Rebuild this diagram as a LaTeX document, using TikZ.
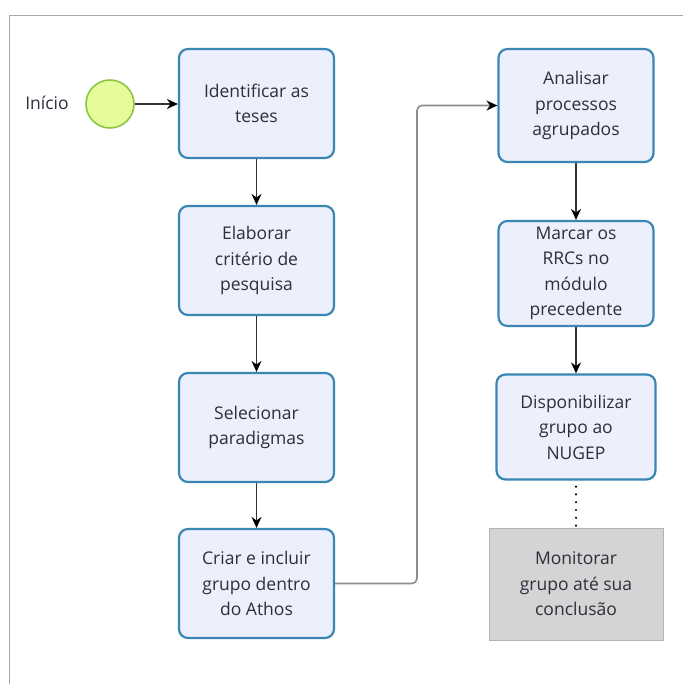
\documentclass[tikz,border=0pt]{standalone}
\usepackage{fontspec}
\setmainfont{Open Sans}
\usetikzlibrary{arrows.meta}
\definecolor{boxfill}{HTML}{ECEFFC}
\definecolor{boxdraw}{HTML}{3A87B4}
\definecolor{txt}{HTML}{2E2E3C}
\definecolor{startfill}{HTML}{E6FC9A}
\definecolor{startdraw}{HTML}{8CC63F}
\definecolor{grayfill}{HTML}{D4D4D4}
\definecolor{framec}{HTML}{A8A8A8}
\definecolor{conn}{HTML}{333333}
\tikzset{
  task/.style={draw=boxdraw, line width=2.2pt, fill=boxfill, rounded corners=9pt,
    minimum width=155pt, minimum height=109pt, align=center, text=txt,
    font=\fontsize{17.5}{25.5}\selectfont, inner sep=0pt},
  graytask/.style={fill=grayfill, draw=grayfill!85!black, line width=0.6pt,
    minimum width=174pt, minimum height=112pt, align=center, text=txt,
    font=\fontsize{17.5}{25.5}\selectfont, inner sep=0pt},
  flow/.style={draw=conn, line width=1.3pt, -{Stealth[length=11pt,width=10pt,color=black]}},
  elbow/.style={draw=gray!90, line width=1.6pt, rounded corners=5pt, -{Stealth[length=11pt,width=10pt,color=black]}},
}
\begin{document}
\begin{tikzpicture}[x=1pt,y=-1pt]
\useasboundingbox (0,0) rectangle (683,684);
\draw[framec, line width=1pt] (683,15.5) -- (9.5,15.5) -- (9.5,684);
\node[circle, draw=startdraw, line width=1.6pt, fill=startfill, minimum size=48pt, inner sep=0pt] (start) at (110,104) {};
\node[text=txt, font=\fontsize{17.5}{20}\selectfont, anchor=center] (lbl) at (47,103) {Início};
\node[task] (t1) at (256.5,103.5) {Identificar as\\teses};
\node[task] (t2) at (256.5,260.5) {Elaborar\\critério de\\pesquisa};
\node[task] (t3) at (256.5,427.5) {Selecionar\\paradigmas};
\node[task] (t4) at (256.5,583.5) {Criar e incluir\\grupo dentro\\do Athos};
\node[task, minimum height=113pt] (t5) at (576,105.5) {Analisar\\processos\\agrupados};
\node[task, minimum height=105pt] (t6) at (576,273.5) {Marcar os\\RRCs no\\módulo\\precedente};
\node[task, minimum width=159pt, minimum height=105pt] (t7) at (576,427) {Disponibilizar\\grupo ao\\NUGEP};
\node[graytask] (t8) at (576,584) {Monitorar\\grupo até sua\\conclusão};
\coordinate (c1) at (417,583.5);
\coordinate (c2) at (417,105.5);
\draw[flow] (start) -- (t1.west |- start);
\draw[flow] (t1) -- (t2);
\draw[flow] (t2) -- (t3);
\draw[flow] (t3) -- (t4);
\draw[elbow] (t4.east) -- (c1) -- (c2) -- (t5.west);
\draw[flow] (t5) -- (t6);
\draw[flow] (t6) -- (t7);
\draw[black, line width=2.4pt, line cap=round, dash pattern=on 0pt off 7.8pt] (t7.south) ++(0,6) -- (t8.north);
\end{tikzpicture}
\end{document}
